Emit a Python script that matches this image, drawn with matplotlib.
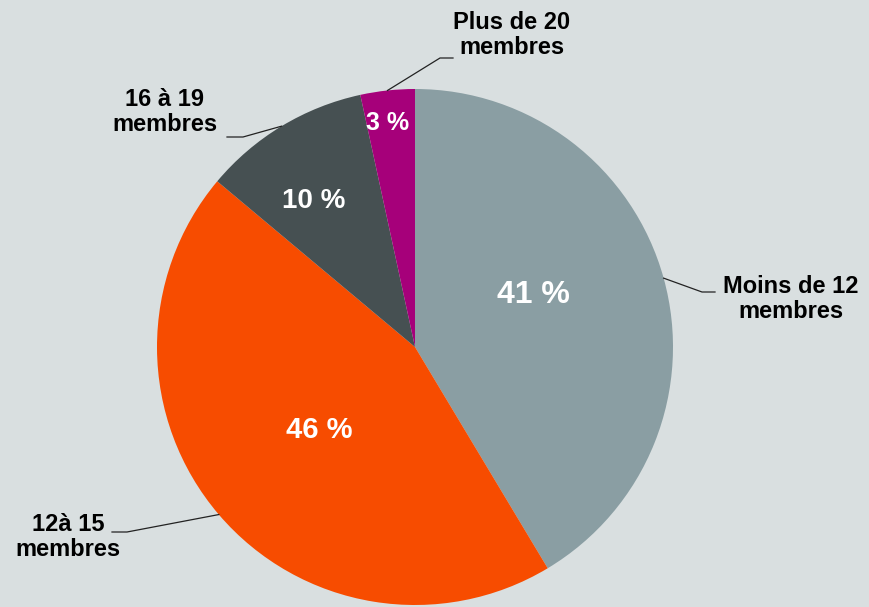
import numpy as np
import matplotlib
matplotlib.use('Agg')
import matplotlib.pyplot as plt

# slice shares (clockwise from 12 o'clock)
categories = ['Moins de 12\nmembres', '12à 15\nmembres', '16 à 19\nmembres', 'Plus de 20\nmembres']
values = [41.4, 44.7, 10.5, 3.4]
pct_labels = ['41 %', '46 %', '10 %', '3 %']
colors = ['#8a9ea3', '#f74c00', '#465052', '#a6007a']
bg = '#d9dfe0'

W, H = 870, 607
cx, cy, R = 415, 347, 258  # pie centre/radius in pixels

fig = plt.figure(figsize=(W / 100, H / 100), dpi=100, facecolor=bg)
ax = fig.add_axes([(cx - R) / W, (H - cy - R) / H, 2 * R / W, 2 * R / H])
ax.set_facecolor(bg)

wedges, _ = ax.pie(values, colors=colors, startangle=90, counterclock=False,
                   radius=1, wedgeprops=dict(linewidth=0))
ax.set_xlim(-1, 1)
ax.set_ylim(-1, 1)
ax.set_aspect('equal')
ax.axis('off')


def px(x, y):
    # pixel position (from top-left) -> pie data coords
    return (x - cx) / R, (cy - y) / R


font = 'Liberation Sans'

# percentages inside slices
pct_pos = [(533, 295), (319, 430), (314, 201), (388, 123)]
pct_size = [23, 21, 20, 18]
for lab, (x, y), s in zip(pct_labels, pct_pos, pct_size):
    ax.text(*px(x, y), lab, ha='center', va='center', color='white',
            fontsize=s, fontweight='bold', family=font)

# outer labels with leader lines starting at the slice mid-angle
text_pos = [(791, 299), (68, 537), (165, 112), (512, 35)]
elbows = [[(702, 292), (715, 292)], [(127, 532), (112, 532)],
          [(243, 137), (227, 137)], [(440, 58), (453, 58)]]
for w, lab, (x, y), el in zip(wedges, categories, text_pos, elbows):
    mid = np.deg2rad((w.theta1 + w.theta2) / 2)
    pts = [(np.cos(mid), np.sin(mid))] + [px(*p) for p in el]
    xs, ys = zip(*pts)
    ax.plot(xs, ys, color='#222222', lw=0.9, clip_on=False)
    ax.text(*px(x, y), lab, ha='center', va='center', color='black',
            fontsize=17, fontweight='bold', family=font, linespacing=1.1)

fig.savefig('out.png', dpi=100, facecolor=bg)
